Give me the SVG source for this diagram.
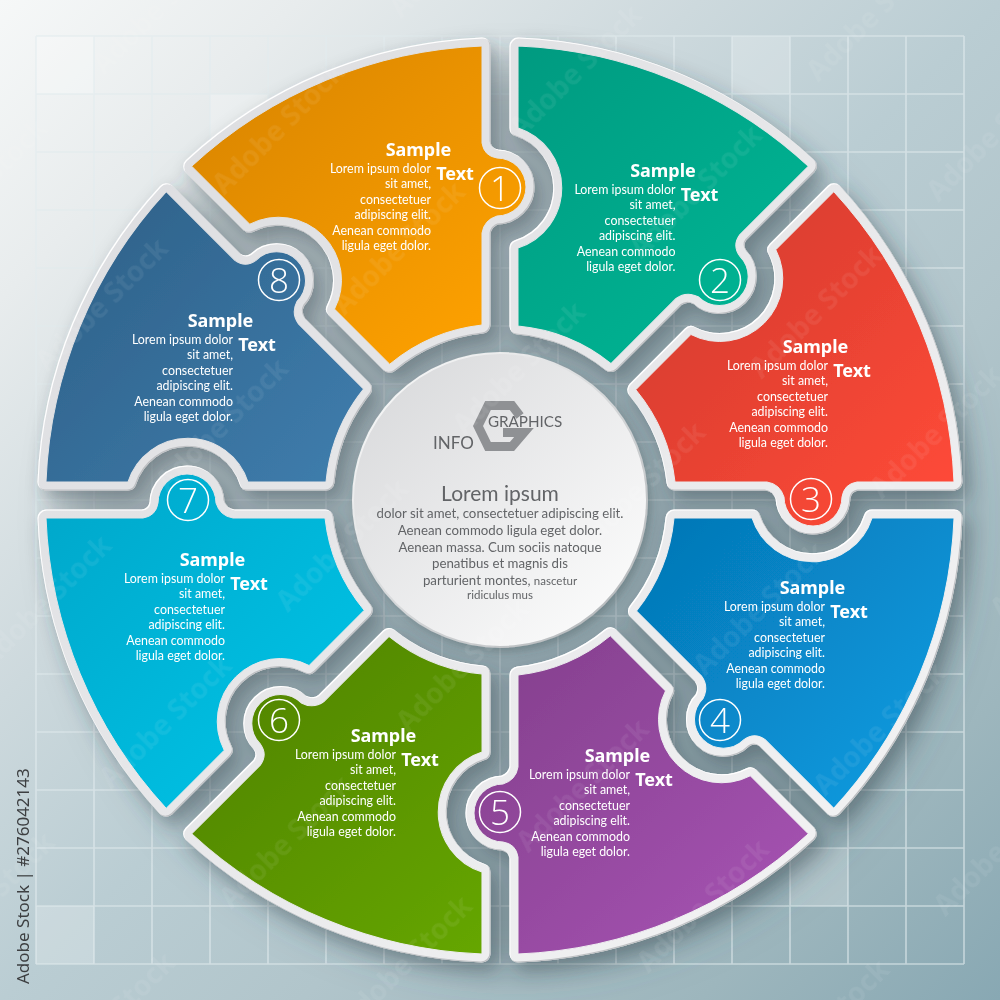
<svg xmlns="http://www.w3.org/2000/svg" width="1000" height="1000" viewBox="0 0 1000 1000">
<style>
.r2{fill:none;stroke-width:17;stroke-linejoin:round}
.s{font-family:"Noto Sans","Lato",sans-serif;font-weight:700;font-size:18px;fill:#fff;text-anchor:middle}
.l{font-family:"Lato","Noto Sans",sans-serif;font-size:12.4px;fill:#fff;text-anchor:end}
.n{font-family:"Open Sans","Noto Sans",sans-serif;font-weight:300;font-size:35px;fill:#fff;text-anchor:middle}
.c{fill:none;stroke:#fff;stroke-width:1.5}
.m{font-family:"Lato","Noto Sans",sans-serif;fill:#626467;text-anchor:middle}
</style>
<defs>
<linearGradient id="bg" gradientUnits="userSpaceOnUse" x1="0" y1="0" x2="1000" y2="1000"><stop offset="0" stop-color="#f6f8f8"/><stop offset=".15" stop-color="#e8eced"/><stop offset=".35" stop-color="#cdd9dd"/><stop offset=".5" stop-color="#bacdd3"/><stop offset=".65" stop-color="#b1c5cb"/><stop offset=".85" stop-color="#9db6bd"/><stop offset="1" stop-color="#88a8b3"/></linearGradient>
<linearGradient id="rim" gradientUnits="userSpaceOnUse" x1="100" y1="100" x2="900" y2="900"><stop offset="0" stop-color="#dcdde0"/><stop offset="1" stop-color="#f3f3f4"/></linearGradient>
<linearGradient id="r1" href="#rim"/>
<linearGradient id="r2" href="#rim" gradientTransform="rotate(-45 500 500)"/>
<linearGradient id="r3" href="#rim" gradientTransform="rotate(-90 500 500)"/>
<linearGradient id="r4" href="#rim" gradientTransform="rotate(-135 500 500)"/>
<linearGradient id="r5" href="#rim" gradientTransform="rotate(-180 500 500)"/>
<linearGradient id="r6" href="#rim" gradientTransform="rotate(-225 500 500)"/>
<linearGradient id="r7" href="#rim" gradientTransform="rotate(-270 500 500)"/>
<linearGradient id="r8" href="#rim" gradientTransform="rotate(-315 500 500)"/>
<linearGradient id="g1" gradientUnits="userSpaceOnUse" x1="190" y1="45" x2="490" y2="360"><stop offset="0" stop-color="#d68300"/><stop offset="1" stop-color="#ffa200"/></linearGradient>
<linearGradient id="g2" gradientUnits="userSpaceOnUse" x1="515" y1="45" x2="815" y2="360" gradientTransform="rotate(-45 500 500)"><stop offset="0" stop-color="#009a80"/><stop offset="1" stop-color="#00b997"/></linearGradient>
<linearGradient id="g3" gradientUnits="userSpaceOnUse" x1="640" y1="190" x2="960" y2="490" gradientTransform="rotate(-90 500 500)"><stop offset="0" stop-color="#cf3a2d"/><stop offset="1" stop-color="#ff4a38"/></linearGradient>
<linearGradient id="g4" gradientUnits="userSpaceOnUse" x1="640" y1="510" x2="960" y2="810" gradientTransform="rotate(-135 500 500)"><stop offset="0" stop-color="#0575b4"/><stop offset="1" stop-color="#0a9fe4"/></linearGradient>
<linearGradient id="g5" gradientUnits="userSpaceOnUse" x1="515" y1="640" x2="815" y2="955" gradientTransform="rotate(-180 500 500)"><stop offset="0" stop-color="#85408e"/><stop offset="1" stop-color="#a955b6"/></linearGradient>
<linearGradient id="g6" gradientUnits="userSpaceOnUse" x1="190" y1="640" x2="490" y2="955" gradientTransform="rotate(-225 500 500)"><stop offset="0" stop-color="#4e8000"/><stop offset="1" stop-color="#66a700"/></linearGradient>
<linearGradient id="g7" gradientUnits="userSpaceOnUse" x1="40" y1="510" x2="360" y2="810" gradientTransform="rotate(-270 500 500)"><stop offset="0" stop-color="#00a8cb"/><stop offset="1" stop-color="#00c6e9"/></linearGradient>
<linearGradient id="g8" gradientUnits="userSpaceOnUse" x1="40" y1="190" x2="360" y2="490" gradientTransform="rotate(-315 500 500)"><stop offset="0" stop-color="#2d5e85"/><stop offset="1" stop-color="#3f7eae"/></linearGradient>
<linearGradient id="cf" x1="0" y1="0" x2="1" y2="1"><stop offset="0" stop-color="#d6d7d9"/><stop offset="1" stop-color="#ffffff"/></linearGradient>
<linearGradient id="cs" x1="0" y1="0" x2="1" y2="1"><stop offset="0" stop-color="#ffffff"/><stop offset="1" stop-color="#aeb2b5"/></linearGradient>
<filter id="sh" filterUnits="userSpaceOnUse" x="0" y="0" width="1000" height="1000"><feDropShadow dx="3" dy="4" stdDeviation="4" flood-color="#34444b" flood-opacity=".3"/></filter>
<filter id="bev" filterUnits="userSpaceOnUse" x="0" y="0" width="1000" height="1000">
<feOffset in="SourceAlpha" dx="7" dy="9" result="o0"/><feGaussianBlur in="o0" stdDeviation="9" result="b0"/><feFlood flood-color="#34444b" flood-opacity=".38"/><feComposite in2="b0" operator="in" result="shadow"/>
<feOffset in="SourceAlpha" dx="1.2" dy="1.2" result="o1"/><feFlood flood-color="#ffffff"/><feComposite in2="SourceAlpha" operator="in" result="w"/><feComposite in="w" in2="o1" operator="out" result="hi"/>
<feOffset in="SourceAlpha" dx="-1.2" dy="-1.2" result="o2"/><feFlood flood-color="#bdbfc2"/><feComposite in2="SourceAlpha" operator="in" result="g"/><feComposite in="g" in2="o2" operator="out" result="lo"/>
<feMerge><feMergeNode in="shadow"/><feMergeNode in="SourceGraphic"/><feMergeNode in="hi"/><feMergeNode in="lo"/></feMerge>
</filter>
<filter id="bl" filterUnits="userSpaceOnUse" x="0" y="0" width="1000" height="1000"><feGaussianBlur stdDeviation="22"/></filter>
<pattern id="wm" width="250" height="170" patternUnits="userSpaceOnUse" patternTransform="rotate(-45 500 500)"><text x="20" y="90" font-family="Noto Sans,sans-serif" font-weight="700" font-size="28" fill="#fff" fill-opacity=".07">Adobe Stock</text></pattern>
<path id="p" d="M482 46V143Q484 156 497 158A29 29 0 1 1 497 216Q484 220 482 233V325A175 175 0 0 0 389.7 364.2L334.5 309.1A63 63 0 0 0 249.7 224.2L191.7 166.2A454.4 454.4 0 0 1 482 46Z"/>
<g id="piece"><use href="#p" class="r2"/><use href="#p"/></g>
</defs>
<rect width="1000" height="1000" fill="url(#bg)"/>
<g fill="#fff" fill-opacity=".22"><rect x="36" y="36" width="58" height="58"/><rect x="732" y="36" width="58" height="58"/><rect x="210" y="94" width="58" height="58"/><rect x="36" y="906" width="58" height="58"/><rect x="790" y="848" width="58" height="58"/></g>
<path fill="none" stroke="#e2ebee" stroke-opacity=".65" stroke-width="1.6" d="M36 36V964M94 36V964M152 36V964M210 36V964M268 36V964M326 36V964M384 36V964M442 36V964M500 36V964M558 36V964M616 36V964M674 36V964M732 36V964M790 36V964M848 36V964M906 36V964M964 36V964M36 36H964M36 94H964M36 152H964M36 210H964M36 268H964M36 326H964M36 384H964M36 442H964M36 500H964M36 558H964M36 616H964M36 674H964M36 732H964M36 790H964M36 848H964M36 906H964M36 964H964"/>
<circle cx="515" cy="520" r="450" fill="#3f545c" fill-opacity=".32" filter="url(#bl)"/>
<g id="pieces" filter="url(#bev)">
<g id="node1"><use href="#piece" fill="url(#g1)" stroke="url(#r1)"/></g>
<g id="node2"><use href="#piece" fill="url(#g2)" stroke="url(#r2)" transform="rotate(45 500 500)"/></g>
<g id="node3"><use href="#piece" fill="url(#g3)" stroke="url(#r3)" transform="rotate(90 500 500)"/></g>
<g id="node4"><use href="#piece" fill="url(#g4)" stroke="url(#r4)" transform="rotate(135 500 500)"/></g>
<g id="node5"><use href="#piece" fill="url(#g5)" stroke="url(#r5)" transform="rotate(180 500 500)"/></g>
<g id="node6"><use href="#piece" fill="url(#g6)" stroke="url(#r6)" transform="rotate(225 500 500)"/></g>
<g id="node7"><use href="#piece" fill="url(#g7)" stroke="url(#r7)" transform="rotate(270 500 500)"/></g>
<g id="node8"><use href="#piece" fill="url(#g8)" stroke="url(#r8)" transform="rotate(315 500 500)"/></g>
</g>
<g id="label1"><text class="s" x="418.5" y="155.5">Sample</text><text class="s" x="455" y="180">Text</text><text class="l" y="173"><tspan x="431">Lorem ipsum dolor</tspan><tspan x="431" dy="15.4">sit amet,</tspan><tspan x="431" dy="15.4">consectetuer</tspan><tspan x="431" dy="15.4">adipiscing elit.</tspan><tspan x="431" dy="15.4">Aenean commodo</tspan><tspan x="431" dy="15.4">ligula eget dolor.</tspan></text><circle class="c" cx="500" cy="188" r="20.5"/><text class="n" x="500" y="200.5">1</text></g>
<g id="label2"><g transform="translate(244.5 21)"><text class="s" x="418.5" y="155.5">Sample</text><text class="s" x="455" y="180">Text</text><text class="l" y="173"><tspan x="431">Lorem ipsum dolor</tspan><tspan x="431" dy="15.4">sit amet,</tspan><tspan x="431" dy="15.4">consectetuer</tspan><tspan x="431" dy="15.4">adipiscing elit.</tspan><tspan x="431" dy="15.4">Aenean commodo</tspan><tspan x="431" dy="15.4">ligula eget dolor.</tspan></text></g><circle class="c" cx="720" cy="280" r="20.5"/><text class="n" x="720" y="292.5">2</text></g>
<g id="label3"><g transform="translate(397 197)"><text class="s" x="418.5" y="155.5">Sample</text><text class="s" x="455" y="180">Text</text><text class="l" y="173"><tspan x="431">Lorem ipsum dolor</tspan><tspan x="431" dy="15.4">sit amet,</tspan><tspan x="431" dy="15.4">consectetuer</tspan><tspan x="431" dy="15.4">adipiscing elit.</tspan><tspan x="431" dy="15.4">Aenean commodo</tspan><tspan x="431" dy="15.4">ligula eget dolor.</tspan></text></g><circle class="c" cx="811" cy="499" r="20.5"/><text class="n" x="811" y="511.5">3</text></g>
<g id="label4"><g transform="translate(394 438)"><text class="s" x="418.5" y="155.5">Sample</text><text class="s" x="455" y="180">Text</text><text class="l" y="173"><tspan x="431">Lorem ipsum dolor</tspan><tspan x="431" dy="15.4">sit amet,</tspan><tspan x="431" dy="15.4">consectetuer</tspan><tspan x="431" dy="15.4">adipiscing elit.</tspan><tspan x="431" dy="15.4">Aenean commodo</tspan><tspan x="431" dy="15.4">ligula eget dolor.</tspan></text></g><circle class="c" cx="720" cy="720" r="20.5"/><text class="n" x="720" y="732.5">4</text></g>
<g id="label5"><g transform="translate(199 606)"><text class="s" x="418.5" y="155.5">Sample</text><text class="s" x="455" y="180">Text</text><text class="l" y="173"><tspan x="431">Lorem ipsum dolor</tspan><tspan x="431" dy="15.4">sit amet,</tspan><tspan x="431" dy="15.4">consectetuer</tspan><tspan x="431" dy="15.4">adipiscing elit.</tspan><tspan x="431" dy="15.4">Aenean commodo</tspan><tspan x="431" dy="15.4">ligula eget dolor.</tspan></text></g><circle class="c" cx="500" cy="812" r="20.5"/><text class="n" x="500" y="824.5">5</text></g>
<g id="label6"><g transform="translate(-35 586)"><text class="s" x="418.5" y="155.5">Sample</text><text class="s" x="455" y="180">Text</text><text class="l" y="173"><tspan x="431">Lorem ipsum dolor</tspan><tspan x="431" dy="15.4">sit amet,</tspan><tspan x="431" dy="15.4">consectetuer</tspan><tspan x="431" dy="15.4">adipiscing elit.</tspan><tspan x="431" dy="15.4">Aenean commodo</tspan><tspan x="431" dy="15.4">ligula eget dolor.</tspan></text></g><circle class="c" cx="279" cy="720" r="20.5"/><text class="n" x="279" y="732.5">6</text></g>
<g id="label7"><g transform="translate(-206 410)"><text class="s" x="418.5" y="155.5">Sample</text><text class="s" x="455" y="180">Text</text><text class="l" y="173"><tspan x="431">Lorem ipsum dolor</tspan><tspan x="431" dy="15.4">sit amet,</tspan><tspan x="431" dy="15.4">consectetuer</tspan><tspan x="431" dy="15.4">adipiscing elit.</tspan><tspan x="431" dy="15.4">Aenean commodo</tspan><tspan x="431" dy="15.4">ligula eget dolor.</tspan></text></g><circle class="c" cx="188" cy="500" r="20.5"/><text class="n" x="188" y="512.5">7</text></g>
<g id="label8"><g transform="translate(-198 171)"><text class="s" x="418.5" y="155.5">Sample</text><text class="s" x="455" y="180">Text</text><text class="l" y="173"><tspan x="431">Lorem ipsum dolor</tspan><tspan x="431" dy="15.4">sit amet,</tspan><tspan x="431" dy="15.4">consectetuer</tspan><tspan x="431" dy="15.4">adipiscing elit.</tspan><tspan x="431" dy="15.4">Aenean commodo</tspan><tspan x="431" dy="15.4">ligula eget dolor.</tspan></text></g><circle class="c" cx="279" cy="280" r="20.5"/><text class="n" x="279" y="292.5">8</text></g>
<g id="center">
<circle cx="500" cy="500" r="147" fill="url(#cf)" stroke="url(#cs)" stroke-width="2" filter="url(#sh)"/>
<polyline points="503,432.5 524,432.5 512,446.5 488,446.5 478,426 488,405.5 512,405.5 520,416" fill="none" stroke="#8f9194" stroke-width="9"/>
<text x="525" y="427" class="m" font-size="15.2">GRAPHICS</text>
<text x="453.5" y="449" class="m" font-size="17">INFO</text>
<text x="500" y="501" class="m" font-size="21">Lorem ipsum</text>
<text x="500" y="518" class="m" font-size="13.25">dolor sit amet, consectetuer adipiscing elit.</text>
<text x="500" y="535" class="m" font-size="13.25">Aenean commodo ligula eget dolor.</text>
<text x="500" y="552" class="m" font-size="13.25">Aenean massa. Cum sociis natoque</text>
<text x="500" y="568" class="m" font-size="13.25">penatibus et magnis dis</text>
<text x="500" y="585" class="m" font-size="13.25">parturient montes, <tspan font-size="11.5">nascetur</tspan></text>
<text x="500" y="599" class="m" font-size="11.5">ridiculus mus</text>
</g>
<rect width="1000" height="1000" fill="url(#wm)"/>
<text transform="translate(29 984) rotate(-90)" font-family="Noto Sans,sans-serif" font-size="17" fill="#3d3f41">Adobe Stock | #276042143</text>
</svg>
